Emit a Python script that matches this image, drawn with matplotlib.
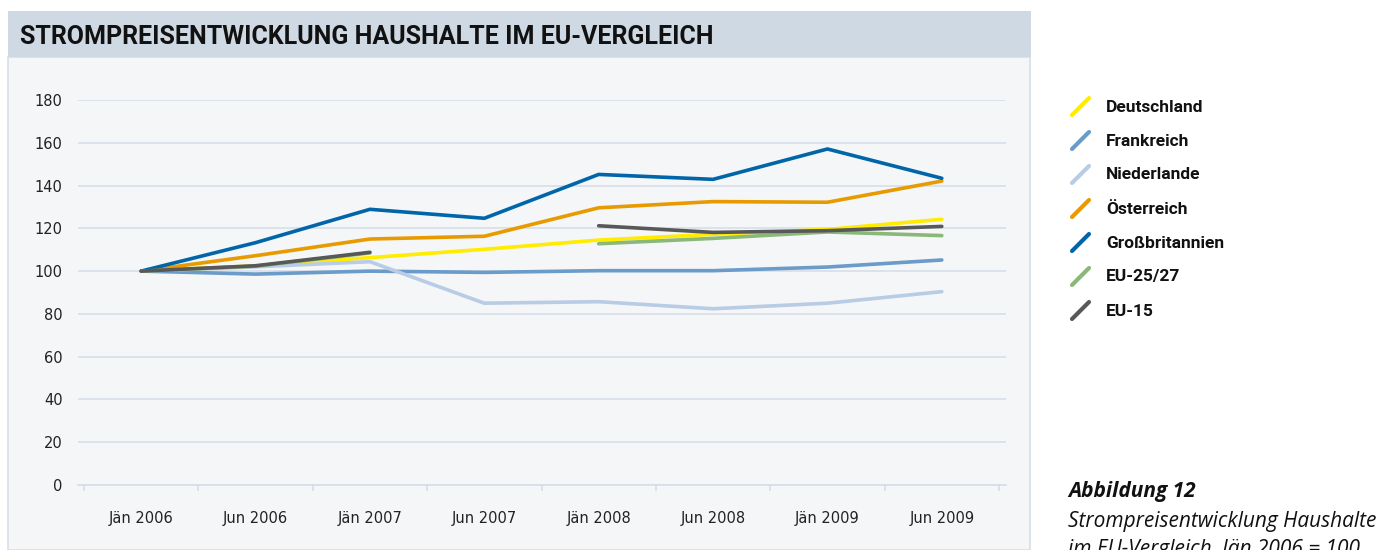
import numpy as np
import matplotlib.pyplot as plt
from matplotlib.patches import Rectangle
from matplotlib.lines import Line2D

# Daten (Jän 2006 = 100)
perioden = ['Jän 2006', 'Jun 2006', 'Jän 2007', 'Jun 2007', 'Jän 2008', 'Jun 2008', 'Jän 2009', 'Jun 2009']
deutschland = [100, 102.5, 106.3, 110.2, 114.5, 117.2, 119.5, 124.2]
frankreich = [100, 98.6, 100.0, 99.4, 100.2, 100.2, 101.9, 105.2]
niederlande = [100, 102.0, 104.4, 85.0, 85.7, 82.4, 85.0, 90.4]
oesterreich = [100, 107.2, 115.0, 116.3, 129.6, 132.5, 132.2, 142.1]
grossbritannien = [100, 113.3, 128.9, 124.7, 145.2, 142.9, 157.1, 143.4]
eu25 = [100, 102.3, 108.5, np.nan, 112.8, 115.3, 118.3, 116.6]
eu15 = [100, 102.5, 108.8, np.nan, 121.2, 118.1, 118.9, 120.9]

namen = ['Deutschland', 'Frankreich', 'Niederlande', 'Österreich', 'Großbritannien', 'EU-25/27', 'EU-15']
reihen = [deutschland, frankreich, niederlande, oesterreich, grossbritannien, eu25, eu15]
farben = ['#ffec00', '#6b9bc9', '#b9cce6', '#e79b00', '#0066a9', '#8ab879', '#585858']
yticks = [0, 20, 40, 60, 80, 100, 120, 140, 160, 180]

W, H = 1395, 550
fig = plt.figure(figsize=(W / 100, H / 100), dpi=100)
fig.patch.set_facecolor('white')

# Rahmen: Kopfzeile und Fläche
fig.add_artist(Rectangle((8 / W, 0), 1022 / W, 1 - 57 / H, transform=fig.transFigure,
                         facecolor='#f5f6f8', edgecolor='#d6dfe9', linewidth=1.2, zorder=0))
fig.add_artist(Rectangle((8 / W, 1 - 57 / H), 1023 / W, 46 / H, transform=fig.transFigure,
                         facecolor='#cfd9e3', edgecolor='none', zorder=0))
fig.text(20 / W, 1 - 37 / H, 'STROMPREISENTWICKLUNG HAUSHALTE IM EU-VERGLEICH',
         fontsize=18, fontweight='bold', family='Roboto', va='center', ha='left', color='#111111')

ax = fig.add_axes([78 / W, 1 - 485 / H, 928 / W, 385 / H])
ax.set_facecolor('none')
x = np.arange(len(perioden))
for werte, farbe in zip(reihen, farben):
    ax.plot(x, werte, color=farbe, linewidth=2.6, solid_capstyle='round', clip_on=False)

ax.set_xlim(-0.5 - 6 / 114.4, 7.5 + 7 / 114.4)
ax.set_ylim(0, 180)
ax.set_yticks(yticks)
ax.set_yticklabels([str(v) for v in yticks])
ax.set_xticks(x)
ax.set_xticklabels(perioden)
ax.set_xticks(np.arange(len(perioden) + 1) - 0.5, minor=True)
ax.grid(axis='y', color='#d6dfe9', linewidth=1.2)
ax.set_axisbelow(True)
for s in ['top', 'right', 'left']:
    ax.spines[s].set_visible(False)
ax.spines['bottom'].set_color('#d6dfe9')
ax.spines['bottom'].set_linewidth(1.2)
ax.tick_params(axis='y', length=0, pad=11, labelsize=10.5, labelcolor='#222222')
ax.tick_params(axis='x', which='major', length=0, pad=19, labelsize=10.5, labelcolor='#222222')
ax.tick_params(axis='x', which='minor', length=4, width=1.2, color='#d6dfe9')

# Legende rechts
for i, (name, farbe) in enumerate(zip(namen, farben)):
    yc = 107 + i * 34
    fig.add_artist(Line2D([1072 / W, 1089 / W], [1 - (yc + 8) / H, 1 - (yc - 9) / H],
                          transform=fig.transFigure, color=farbe, linewidth=3,
                          solid_capstyle='round'))
    fig.text(1106 / W, 1 - yc / H, name, fontsize=12.5, fontweight='bold', family='Roboto',
             va='center', ha='left', color='#111111')

# Bildunterschrift
fig.text(1068 / W, 1 - 492 / H, 'Abbildung 12', fontsize=15, fontweight='bold', style='italic',
         family='Open Sans', va='center', ha='left', color='#111111')
fig.text(1068 / W, 1 - 521 / H, 'Strompreisentwicklung Haushalte', fontsize=15, style='italic',
         family='Open Sans', va='center', ha='left', color='#111111')
fig.text(1068 / W, 1 - 549 / H, 'im EU-Vergleich, Jän 2006 = 100', fontsize=15, style='italic',
         family='Open Sans', va='center', ha='left', color='#111111')

fig.savefig('out.png', dpi=100)
